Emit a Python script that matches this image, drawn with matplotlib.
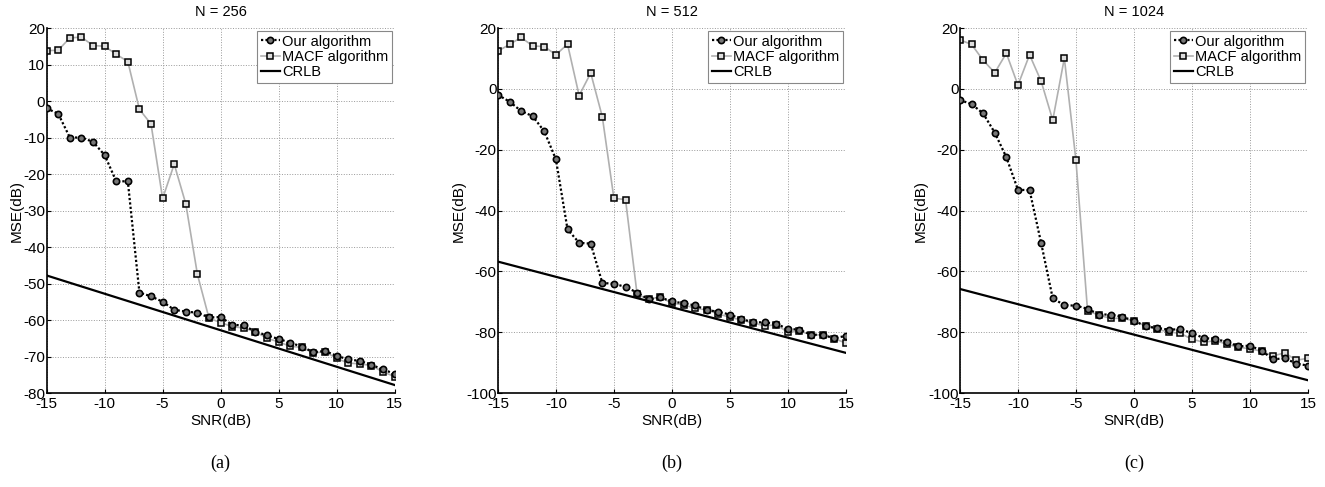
import numpy as np
import matplotlib
matplotlib.use("Agg")
import matplotlib.pyplot as plt

snr = list(range(-15, 16))

# N = 256
ours_256 = [-2, -3.5, -10, -10, -11.2, -14.8, -22, -22, -52.5, -53.5, -55, -57.2, -57.7, -58,
            -59.3, -59.2, -61.3, -61.5, -63.2, -64.2, -65.2, -66.2, -67.3, -68.8, -68.5,
            -69.8, -70.8, -71.2, -72.3, -73.5, -74.8]
macf_256 = [13.8, 13.9, 17.3, 17.5, 15.2, 15, 12.8, 10.8, -2.3, -6.3, -26.7, -17.3, -28.2, -47.5,
            -59.5, -60.7, -61.8, -62.2, -63.2, -65, -66, -67.2, -67.5, -69, -68.7,
            -70.5, -71.8, -72, -72.5, -74.2, -75.5]
crlb_256 = [-47.8, -77.8]

# N = 512
ours_512 = [-2, -4.2, -7.3, -9.0, -14, -23.2, -46.2, -50.6, -50.9, -63.8, -64.1, -65.1, -67, -69.2,
            -68.6, -69.9, -70.5, -71.2, -72.7, -73.3, -74.2, -75.7, -76.7, -76.8, -77.3,
            -78.9, -79.2, -80.8, -80.9, -82, -81.2]
macf_512 = [12.4, 14.6, 16.9, 14.1, 13.9, 11.2, 14.7, -2.2, 5.2, -9.2, -36, -36.4, -67.6, -69.2,
            -68.4, -70.5, -71, -72.1, -72.7, -74, -75.1, -76, -77, -77.9, -77.6,
            -80, -79.6, -80.9, -80.9, -82.1, -83.6]
crlb_512 = [-56.8, -86.8]

# N = 1024
ours_1024 = [-3.7, -5.0, -8.1, -14.4, -22.5, -33.2, -33.3, -50.7, -68.9, -71.1, -71.3, -72.3, -74.2,
             -74.2, -75, -76.2, -78.1, -78.6, -79.2, -79, -80.3, -81.9, -82.3, -83.1, -84.7,
             -84.4, -86.1, -88.9, -88.6, -90.3, -91.0]
macf_1024 = [16.1, 14.6, 9.4, 5.3, 11.7, 1.2, 11.2, 2.5, -10.3, 10.1, -23.5, -72.9, -74.5, -75.4,
             -75.5, -76.2, -78, -79.1, -79.9, -80.4, -82.3, -83.3, -82.8, -83.9, -85,
             -85.4, -86.3, -87.8, -86.8, -89.2, -88.6]
crlb_1024 = [-65.8, -95.8]

panels = [
    ("N = 256", ours_256, macf_256, crlb_256, (-80, 20), range(-80, 21, 10), "(a)"),
    ("N = 512", ours_512, macf_512, crlb_512, (-100, 20), range(-100, 21, 20), "(b)"),
    ("N = 1024", ours_1024, macf_1024, crlb_1024, (-100, 20), range(-100, 21, 20), "(c)"),
]

plt.rcParams['font.family'] = ['Liberation Sans', 'DejaVu Sans']
plt.rcParams['font.size'] = 10
plt.rcParams['axes.unicode_minus'] = False

fig = plt.figure(figsize=(13.25, 4.87), dpi=100)
lefts = [0.0352, 0.3758, 0.7245]

for left, (title, ours, macf, crlb, ylim, yt, tag) in zip(lefts, panels):
    ax = fig.add_axes([left, 0.193, 0.2626, 0.7495])
    ax.plot(snr, ours, color='black', linestyle=(0, (1, 1)), linewidth=1.6, marker='o',
            markersize=4.5, markerfacecolor='#777777', markeredgecolor='black',
            markeredgewidth=1.2, label='Our algorithm', zorder=3)
    ax.plot(snr, macf, color='#b0b0b0', linestyle='-', linewidth=1.2, marker='s',
            markersize=3.8, markerfacecolor='#dddddd', markeredgecolor='black',
            markeredgewidth=1.1, label='MACF algorithm', zorder=2)
    ax.plot([snr[0], snr[-1]], crlb, color='black', linewidth=1.6, label='CRLB', zorder=4)

    ax.set_xlim(-15, 15)
    ax.set_ylim(*ylim)
    ax.set_xticks(range(-15, 16, 5))
    ax.set_yticks(list(yt))
    ax.grid(True, linestyle=':', color='#999999', linewidth=0.7)
    ax.spines['top'].set_visible(False)
    ax.spines['right'].set_visible(False)
    ax.spines['left'].set_linewidth(1.2)
    ax.spines['bottom'].set_linewidth(1.2)
    ax.tick_params(direction='in', length=3, labelsize=11)
    ax.tick_params(axis='y', pad=1)
    ax.tick_params(axis='x', pad=3)
    ax.set_title(title, fontsize=10.5, pad=9)
    ax.set_xlabel('SNR(dB)', fontsize=11, labelpad=2)
    ax.set_ylabel('MSE(dB)', fontsize=11, labelpad=0)

    leg = ax.legend(loc='upper right', fontsize=10.5, handlelength=1.3, handletextpad=0.15,
                    borderpad=0.25, labelspacing=0.1, borderaxespad=0.2, fancybox=False,
                    framealpha=1)
    leg.get_frame().set_edgecolor('#888888')
    leg.get_frame().set_linewidth(0.8)

    fig.text(left + 0.2626 / 2, 1 - 463 / 487, tag, ha='center', va='center',
             fontsize=13, family='Liberation Serif')

fig.savefig('out.png', dpi=100)
